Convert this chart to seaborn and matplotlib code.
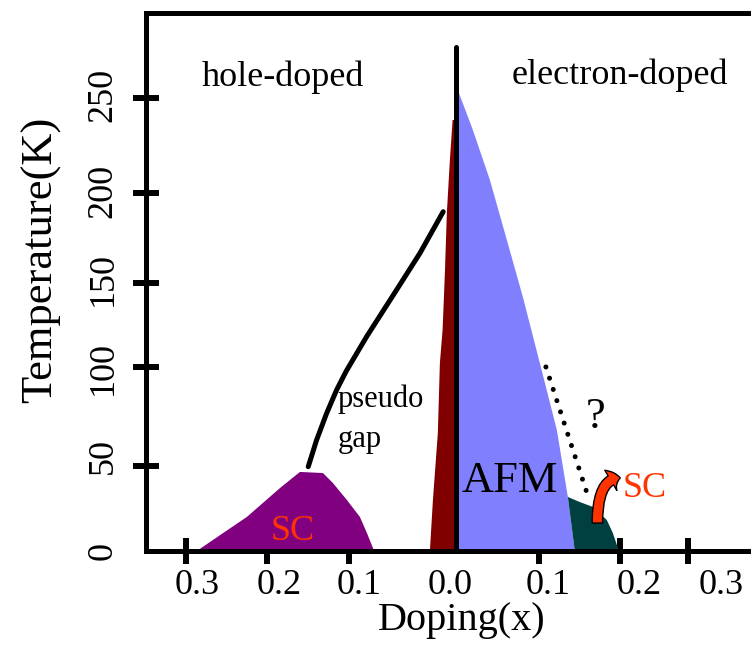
import matplotlib
matplotlib.use("Agg")
import matplotlib.pyplot as plt
import seaborn as sns
import pandas as pd
from matplotlib.patches import FancyArrowPatch

# ---------------- data (x: doping, hole-doped side drawn as negative) -------------
sc_hole_x = [-0.316, -0.2963, -0.2549, -0.2146, -0.1902, -0.1622, -0.150, -0.1329,
             -0.1171, -0.1085, -0.1012, -0.100]
sc_hole_T = [0, 6.1, 18.8, 34.7, 43.6, 43.0, 37.5, 28.1, 18.8, 9.9, 1.7, 0]

afm_hole_x = [-0.0317, -0.028, -0.022, -0.0195, -0.0162, -0.0134, -0.011, -0.0073,
              -0.004, 0.0, 0.0]
afm_hole_T = [0, 28.1, 65.1, 103.7, 121.9, 153.3, 186.4, 215.7, 237.7, 237.7, 0]

afm_elec_x = [0.0, 0.0, 0.0037, 0.0207, 0.0415, 0.0622, 0.0817, 0.1024, 0.1232,
              0.1366, 0.1451]
afm_elec_T = [0, 252.6, 252.6, 232.2, 204.6, 171.5, 140.1, 103.7, 66.7, 29.8, 0]

sc_elec_x = [0.1366, 0.1512, 0.1671, 0.1841, 0.1915, 0.1976, 0.200, 0.1451]
sc_elec_T = [29.8, 27.0, 24.3, 17.1, 9.9, 1.7, 0, 0]

pg_x = [-0.1801, -0.1699, -0.1577, -0.1455, -0.1340, -0.1089, -0.0723, -0.0439, -0.0155]
pg_T = [46.5, 61.2, 75.9, 88.8, 99.0, 118.2, 144.0, 164.2, 187.1]

unknown_x = [0.1098, 0.1594]
unknown_T = [101.5, 32.7]

divider_x = [0.0, 0.0]
divider_T = [0.0, 278.0]

arrow_from = (0.1726, 15.4)
arrow_to = (0.2005, 40.3)

xtick_label_pos = [-0.316, -0.216, -0.118, -0.007, 0.112, 0.223, 0.324]
xtick_labels = ["0.3", "0.2", "0.1", "0.0", "0.1", "0.2", "0.3"]
xtick_mark_pos = [-0.329, -0.2305, -0.1305, 0.101, 0.200, 0.283]

ytick_label_pos = [0, 52.4, 101, 150, 198.6, 251.5]
ytick_labels = ["0", "50", "100", "150", "200", "250"]
ytick_mark_pos = [46.9, 101.6, 147.9, 197.2, 250.0]

# ---------------- style -------------
sns.set_theme(style="white")
plt.rcParams["font.family"] = ["Liberation Serif", "DejaVu Serif"]
plt.rcParams["text.color"] = "black"
plt.rcParams["axes.labelcolor"] = "black"
plt.rcParams["xtick.color"] = "black"
plt.rcParams["ytick.color"] = "black"

fig = plt.figure(figsize=(7.51, 6.52), dpi=100)
ax = fig.add_axes([0.1944, 0.1549, 0.8056, 0.8252])

PURPLE = "#800080"
MAROON = "#800000"
BLUE = "#8080FF"
TEAL = "#004040"
ORANGE = "#FF3300"

ax.fill(sc_hole_x, sc_hole_T, color=PURPLE, lw=0, zorder=1)
ax.fill(afm_hole_x, afm_hole_T, color=MAROON, lw=0, zorder=1)
ax.fill(afm_elec_x, afm_elec_T, color=BLUE, lw=0, zorder=1)
ax.fill(sc_elec_x, sc_elec_T, color=TEAL, lw=0, zorder=1)

pg = pd.DataFrame({"x": pg_x, "T": pg_T})
sns.lineplot(data=pg, x="x", y="T", sort=False, estimator=None, color="black",
             lw=3.6, ax=ax, zorder=3)
sns.lineplot(x=divider_x, y=divider_T, sort=False, estimator=None, color="black",
             lw=3.6, ax=ax, zorder=3)
ax.plot(unknown_x, unknown_T, color="black", lw=3.6, linestyle=(0, (0.01, 2.35)),
        dash_capstyle="round", zorder=3)

arrow = FancyArrowPatch(arrow_from, arrow_to,
                        connectionstyle="angle3,angleA=90,angleB=0",
                        arrowstyle="simple,head_length=7,head_width=17,tail_width=7.5",
                        mutation_scale=1, shrinkA=0, shrinkB=0,
                        facecolor=ORANGE, edgecolor="black", lw=1, zorder=4)
ax.add_patch(arrow)

# ---------------- texts -------------
ax.text(-0.2116, 256.5, "hole-doped", fontsize=26, ha="center", va="baseline")
ax.text(0.2006, 257.6, "electron-doped", fontsize=26, ha="center", va="baseline")
ax.text(-0.144, 79.6, "pseudo", fontsize=22, ha="left", va="baseline")
ax.text(-0.144, 57.5, "gap", fontsize=22, ha="left", va="baseline")
ax.text(-0.1994, 6.1, "SC", fontsize=26, color=ORANGE, ha="center", va="baseline", zorder=5)
ax.text(0.0652, 32.5, "AFM", fontsize=32, ha="center", va="baseline", zorder=5)
ax.text(0.1707, 67.8, "?", fontsize=32, ha="center", va="baseline")
ax.text(0.2305, 29.8, "SC", fontsize=26, color=ORANGE, ha="center", va="baseline")

# ---------------- axes -------------
ax.set_xlim(-0.378, 0.360)
ax.set_ylim(0, 296.7)

for side in ["top", "left", "bottom"]:
    ax.spines[side].set_visible(True)
    ax.spines[side].set_color("black")
    ax.spines[side].set_linewidth(3.6)
    ax.spines[side].set_zorder(6)
ax.spines["right"].set_visible(False)

ax.set_xticks(xtick_label_pos)
ax.set_xticklabels(xtick_labels)
ax.set_xticks(xtick_mark_pos, minor=True)
ax.set_yticks(ytick_label_pos)
ax.set_yticklabels(ytick_labels, rotation=90, va="center")
ax.set_yticks(ytick_mark_pos, minor=True)

ax.tick_params(axis="x", which="major", length=0, pad=13, labelsize=26, labelcolor="black")
ax.tick_params(axis="y", which="major", length=0, pad=19, labelsize=26, labelcolor="black")
ax.tick_params(axis="both", which="minor", direction="inout", length=19.4, width=4.3,
               color="black", bottom=True, left=True, top=False, right=False)
ax.tick_params(axis="y", which="minor", length=18.7)

ax.set_xlabel("Doping(x)", fontsize=29, color="black")
ax.set_ylabel("Temperature(K)", fontsize=32, color="black")
ax.xaxis.set_label_coords(0.522, -0.094)
ax.yaxis.set_label_coords(-0.1405, 0.541)

ax.grid(False)
fig.savefig("out.png", dpi=100)
